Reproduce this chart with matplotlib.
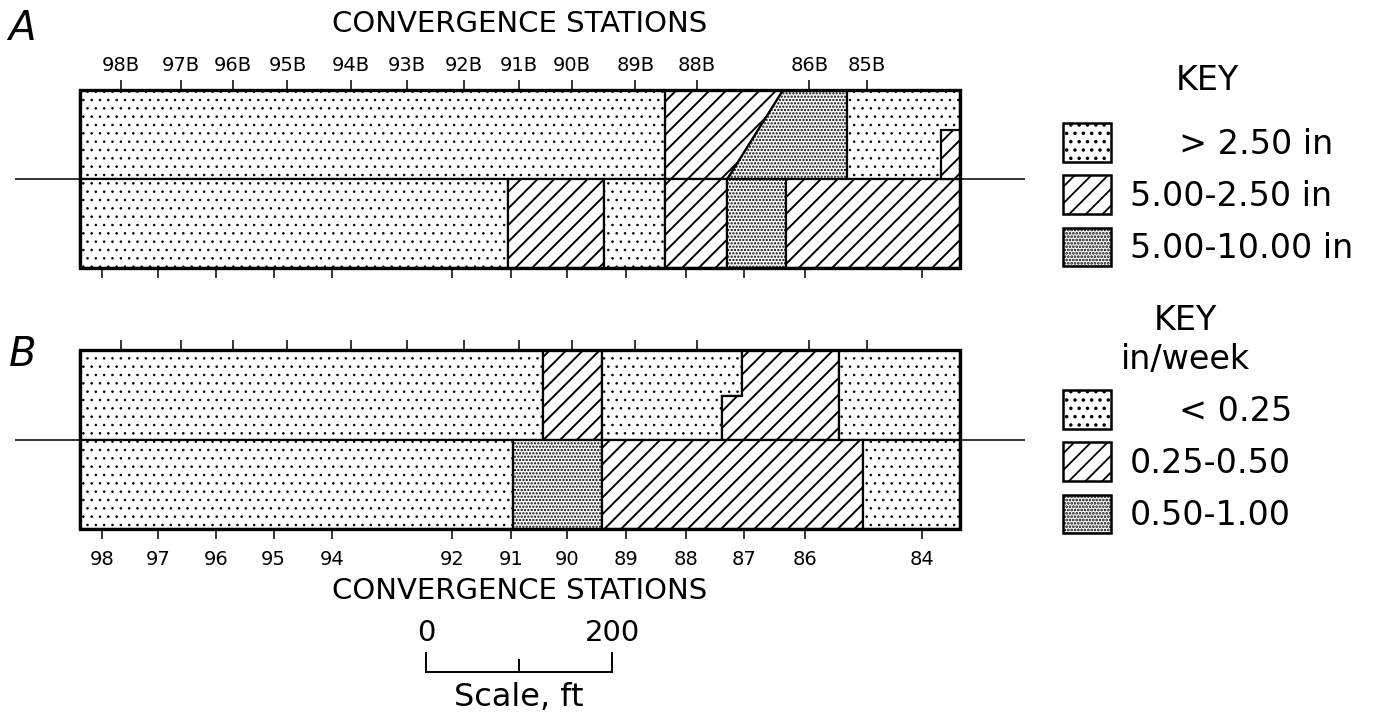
import numpy as np
import matplotlib
matplotlib.use("Agg")
import matplotlib.pyplot as plt
from matplotlib.patches import Patch, Rectangle

plt.rcParams["font.family"] = "DejaVu Sans"
plt.rcParams["hatch.linewidth"] = 1.3

# --- data: distance along the strip in ft (0 = west end of the map) ---------
STRIP_LEN = 946

TOP_LABELS = ["98B", "97B", "96B", "95B", "94B", "93B", "92B", "91B", "90B",
              "89B", "88B", "86B", "85B"]
TOP_POS = [44, 108, 164, 223, 291, 351, 413, 472, 529, 597, 663, 784, 846]

BOT_LABELS = ["98", "97", "96", "95", "94", "92", "91", "90", "89", "88",
              "87", "86", "84"]
BOT_POS = [24, 84, 146, 208, 271, 400, 463, 524, 587, 652, 714, 779, 905]

# row boundaries: a number = vertical edge, a list = (x, frac of row height)
A_UPPER_BOUNDS = [0, 629, [(696, 0.0), (756, 1.0)], 825, 946]
A_UPPER_CLASS = ["low", "mid", "high", "low"]
A_LOWER_BOUNDS = [0, 460, 563, 629, 696, 759, 946]
A_LOWER_CLASS = ["low", "mid", "low", "mid", "high", "mid"]
A_INSETS = [("mid", 926, 946, 0.0, 0.55)]   # class, x0, x1, y0, y1 (upper row)

B_UPPER_BOUNDS = [0, 498, 561, [(690, 0.0), (690, 0.49), (712, 0.49), (712, 1.0)],
                  816, 946]
B_UPPER_CLASS = ["low", "mid", "low", "mid", "low"]
B_LOWER_BOUNDS = [0, 466, 561, 842, 946]
B_LOWER_CLASS = ["low", "high", "mid", "low"]

KEY_A = {"low": "    \u2009> 2.50 in", "mid": "5.00-2.50 in", "high": "5.00-10.00 in"}
KEY_B = {"low": "    \u2009< 0.25", "mid": "0.25-0.50", "high": "0.50-1.00"}

SCALE_FT = 200
SCALE_X0 = 372

HATCH = {"low": "..", "mid": "//", "high": "....."}
HLW = {"low": 0.6, "mid": 1.4, "high": 1.1}


def style_hatch(p, cls):
    if hasattr(p, "set_hatch_linewidth"):
        p.set_hatch_linewidth(HLW[cls])


def bound_pts(b):
    if np.isscalar(b):
        return [(b, 0.0), (b, 1.0)]
    return list(b)


def draw_row(ax, bounds, classes, y0):
    for k, cls in enumerate(classes):
        pts = bound_pts(bounds[k]) + bound_pts(bounds[k + 1])[::-1]
        xs = [p[0] for p in pts]
        ys = [y0 + p[1] for p in pts]
        for p in ax.fill(xs, ys, facecolor="white", edgecolor="black",
                         hatch=HATCH[cls], lw=1.6, zorder=2):
            style_hatch(p, cls)


def panel(ax, upper_b, upper_c, lower_b, lower_c, insets=()):
    draw_row(ax, upper_b, upper_c, 0.0)
    draw_row(ax, lower_b, lower_c, -1.0)
    for cls, x0, x1, y0, y1 in insets:
        r = Rectangle((x0, y0), x1 - x0, y1 - y0, facecolor="white",
                      edgecolor="black", hatch=HATCH[cls], lw=1.6, zorder=3)
        style_hatch(r, cls)
        ax.add_patch(r)
    ax.add_patch(Rectangle((0, -1), STRIP_LEN, 2, fill=False, lw=2.4,
                           edgecolor="black", zorder=5, clip_on=False))
    ax.axhline(0, color="black", lw=1.1, zorder=4)
    ax.set_xlim(-70, 1016)
    ax.set_ylim(-1, 1)
    for s in ax.spines.values():
        s.set_visible(False)
    ax.set_yticks([])
    ax.tick_params(axis="x", direction="out", length=7, width=1.1,
                   labelsize=14, pad=8)
    sec = ax.secondary_xaxis("top")
    for s in sec.spines.values():
        s.set_visible(False)
    sec.tick_params(axis="x", direction="out", length=7, width=1.1,
                    labelsize=14, pad=4)
    return sec


W, H = 1373, 717
fig = plt.figure(figsize=(W / 100, H / 100), dpi=100)

axA = fig.add_axes([15 / W, 1 - 268 / H, 1010 / W, 178 / H])
secA = panel(axA, A_UPPER_BOUNDS, A_UPPER_CLASS, A_LOWER_BOUNDS, A_LOWER_CLASS,
             A_INSETS)
axA.set_xticks(BOT_POS, [""] * len(BOT_POS))
secA.set_xticks(TOP_POS, TOP_LABELS)
secA.set_xlabel("CONVERGENCE STATIONS", fontsize=21, labelpad=17)

axB = fig.add_axes([15 / W, 1 - 529 / H, 1010 / W, 179 / H])
secB = panel(axB, B_UPPER_BOUNDS, B_UPPER_CLASS, B_LOWER_BOUNDS, B_LOWER_CLASS)
axB.set_xticks(BOT_POS, BOT_LABELS)
secB.set_xticks(TOP_POS, [""] * len(TOP_POS))
axB.set_xlabel("CONVERGENCE STATIONS", fontsize=21, labelpad=6)

# scale bar, in the same ft units as the strips
tr = axB.get_xaxis_transform()
xs = [SCALE_X0, SCALE_X0 + SCALE_FT]
axB.plot(xs, [-0.80, -0.80], color="black", lw=1.4, transform=tr, clip_on=False)
for x, top in [(xs[0], -0.69), (SCALE_X0 + SCALE_FT / 2, -0.73), (xs[1], -0.69)]:
    axB.plot([x, x], [-0.80, top], color="black", lw=1.4, transform=tr,
             clip_on=False)
axB.text(xs[0], -0.58, "0", transform=tr, ha="center", va="center", fontsize=21)
axB.text(xs[1], -0.58, f"{SCALE_FT}", transform=tr, ha="center", va="center",
         fontsize=21)
axB.text(SCALE_X0 + SCALE_FT / 2, -0.94, "Scale, ft", transform=tr,
         ha="center", va="center", fontsize=23)

fig.text(22 / W, 1 - 29 / H, "A", style="italic", fontsize=29,
         ha="center", va="center")
fig.text(23 / W, 1 - 354 / H, "B", style="italic", fontsize=29,
         ha="center", va="center")


def key(keymap, title, title_xy, top_px):
    handles = []
    for cls in ["low", "mid", "high"]:
        p = Patch(facecolor="white", edgecolor="black", hatch=HATCH[cls], lw=1.8)
        style_hatch(p, cls)
        handles.append(p)
    fig.legend(handles, [keymap[c] for c in ["low", "mid", "high"]],
               loc="upper left",
               bbox_to_anchor=(1063 / W, 1 - top_px / H), frameon=False,
               borderpad=0, borderaxespad=0, fontsize=24,
               handlelength=1.44, handleheight=1.42, handletextpad=0.57,
               labelspacing=0.4)
    fig.text(title_xy[0] / W, 1 - title_xy[1] / H, title, fontsize=24,
             ha="center", va="center", multialignment="center",
             linespacing=1.25)


key(KEY_A, "KEY", (1207, 81), 123)
key(KEY_B, "KEY\nin/week", (1185, 340), 390)

fig.savefig("out.png", dpi=100)
